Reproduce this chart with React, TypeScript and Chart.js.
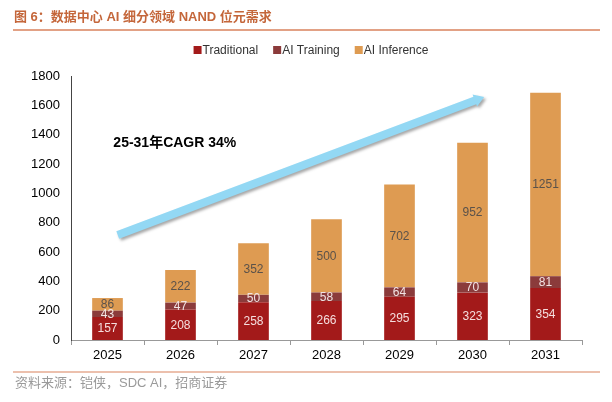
import { useEffect, useRef } from "react"
import { Chart, registerables, type Plugin } from "chart.js"

Chart.register(...registerables)

const years = ["2025", "2026", "2027", "2028", "2029", "2030", "2031"]
const traditional = [157, 208, 258, 266, 295, 323, 354]
const aiTraining = [43, 47, 50, 58, 64, 70, 81]
const aiInference = [86, 222, 352, 500, 702, 952, 1251]

const seriesNames = ["Traditional", "AI Training", "AI Inference"]
const seriesColors = ["#A31A1A", "#8B3B3B", "#DE9B52"]
const labelColors = ["#F5DEDE", "#F2E4E4", "#5B524A"]

const yMax = 1800
const yStep = 200

const titleText = "图 6：数据中心 AI 细分领域 NAND 位元需求"
const sourceText = "资料来源：铠侠，SDC AI，招商证券"
const cagrText = "25-31年CAGR 34%"

const LATIN = "'Liberation Sans', Arial, sans-serif"
const MIXED = "'Liberation Sans', 'Noto Sans CJK SC', sans-serif"

// growth arrow and its caption, placed in data space (category index, value)
const arrowFrom = { x: 0.14, y: 716 }
const arrowTo = { x: 5.16, y: 1657 }
const cagrAt = { x: 0.08, y: 1343 }

const decorations: Plugin<"bar"> = {
  id: "decorations",
  afterDatasetsDraw(chart) {
    const { ctx } = chart
    ctx.save()
    ctx.font = `12px ${LATIN}`
    ctx.textAlign = "center"
    ctx.textBaseline = "middle"
    chart.data.datasets.forEach((ds, i) => {
      const meta = chart.getDatasetMeta(i)
      meta.data.forEach((el, j) => {
        const { x, y, base } = el.getProps(["x", "y", "base"], true) as any
        ctx.fillStyle = labelColors[i]
        ctx.fillText(String(ds.data[j]), x, (y + base) / 2 + 0.5)
      })
    })
    ctx.restore()
  },
  afterDraw(chart) {
    const { ctx } = chart
    const xs = chart.scales.x
    const ys = chart.scales.y
    ctx.save()

    // title + rule
    ctx.fillStyle = "#C4663A"
    ctx.font = `bold 13px ${MIXED}`
    ctx.textAlign = "left"
    ctx.textBaseline = "middle"
    ctx.fillText(titleText, 14, 17)
    ctx.strokeStyle = "#D9825C"
    ctx.lineWidth = 1.5
    ctx.beginPath()
    ctx.moveTo(13, 30)
    ctx.lineTo(600, 30)
    ctx.stroke()

    // legend
    ctx.font = `12px ${LATIN}`
    const widths = seriesNames.map((n) => ctx.measureText(n).width)
    const total = widths.reduce((a, w) => a + 9 + w, 0) + 15 * (seriesNames.length - 1)
    let lx = 311 - total / 2
    seriesNames.forEach((n, i) => {
      ctx.fillStyle = seriesColors[i]
      ctx.fillRect(lx, 46, 8, 8)
      ctx.fillStyle = "#333"
      ctx.fillText(n, lx + 9, 50.5)
      lx += 9 + widths[i] + 15
    })

    // footer
    ctx.strokeStyle = "#D9825C"
    ctx.lineWidth = 1.2
    ctx.beginPath()
    ctx.moveTo(13, 372)
    ctx.lineTo(600, 372)
    ctx.stroke()
    ctx.fillStyle = "#9A9A9A"
    ctx.font = `13px ${MIXED}`
    ctx.fillText(sourceText, 15, 383)

    // arrow
    const x0 = xs.getPixelForValue(arrowFrom.x)
    const y0 = ys.getPixelForValue(arrowFrom.y)
    const x1 = xs.getPixelForValue(arrowTo.x)
    const y1 = ys.getPixelForValue(arrowTo.y)
    const ang = Math.atan2(y1 - y0, x1 - x0)
    const len = Math.hypot(x1 - x0, y1 - y0)
    const half = 4
    const headHalf = 6.5
    const headLen = 10
    ctx.translate(x0, y0)
    ctx.rotate(ang)
    ctx.shadowColor = "rgba(0,0,0,0.35)"
    ctx.shadowBlur = 3
    ctx.shadowOffsetX = 2
    ctx.shadowOffsetY = 2
    ctx.fillStyle = "#93D8F4"
    ctx.beginPath()
    ctx.moveTo(0, -half)
    ctx.lineTo(len - headLen, -half)
    ctx.lineTo(len - headLen, -headHalf)
    ctx.lineTo(len, 0)
    ctx.lineTo(len - headLen, headHalf)
    ctx.lineTo(len - headLen, half)
    ctx.lineTo(0, half)
    ctx.closePath()
    ctx.fill()
    ctx.setTransform(1, 0, 0, 1, 0, 0)
    ctx.restore()

    // CAGR caption
    ctx.save()
    ctx.fillStyle = "#000"
    ctx.font = `bold 14px ${MIXED}`
    ctx.textAlign = "left"
    ctx.textBaseline = "middle"
    ctx.fillText(cagrText, xs.getPixelForValue(cagrAt.x), ys.getPixelForValue(cagrAt.y))
    ctx.restore()
  },
}

export default function App() {
  const canvasRef = useRef<HTMLCanvasElement>(null)

  useEffect(() => {
    if (!canvasRef.current) return
    const chart = new Chart(canvasRef.current, {
      type: "bar",
      data: {
        labels: years,
        datasets: [traditional, aiTraining, aiInference].map((d, i) => ({
          label: seriesNames[i],
          data: d,
          backgroundColor: seriesColors[i],
          borderWidth: 0,
          categoryPercentage: 1,
          barPercentage: 0.42,
        })),
      },
      options: {
        responsive: false,
        animation: false,
        devicePixelRatio: window.devicePixelRatio,
        layout: { padding: { top: 76, right: 30, left: 0, bottom: 0 } },
        plugins: {
          legend: { display: false },
          title: { display: false },
          tooltip: { enabled: false },
        },
        scales: {
          x: {
            stacked: true,
            afterFit: (s) => {
              s.height = 62
            },
            grid: {
              display: true,
              drawOnChartArea: false,
              drawTicks: true,
              tickLength: 5,
              color: "#999",
              offset: true,
            },
            border: { display: true, color: "#999", width: 1 },
            ticks: { color: "#000", font: { family: LATIN, size: 13 }, padding: 3 },
          },
          y: {
            stacked: true,
            min: 0,
            max: yMax,
            afterFit: (s) => {
              s.width = 71
            },
            grid: { display: false, drawTicks: false },
            border: { display: true, color: "#444", width: 1 },
            ticks: {
              stepSize: yStep,
              color: "#000",
              font: { family: LATIN, size: 13 },
              padding: 11,
              callback: (v) => String(v),
            },
          },
        },
      },
      plugins: [decorations],
    })
    return () => chart.destroy()
  }, [])

  return (
    <div style={{ position: "absolute", left: 0, top: 0, width: 612, height: 402, background: "#fff" }}>
      <canvas ref={canvasRef} width={612} height={402} />
    </div>
  )
}
